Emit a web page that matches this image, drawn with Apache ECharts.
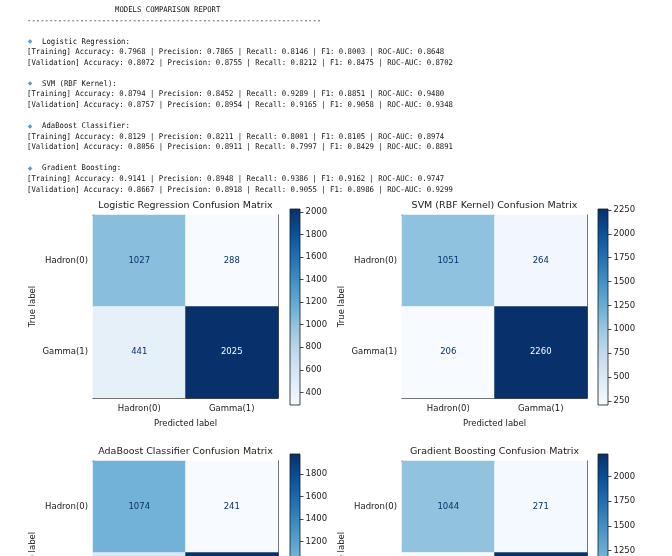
<!DOCTYPE html>
<html>
<head>
<meta charset="utf-8">
<script src="https://cdn.jsdelivr.net/npm/echarts@6/dist/echarts.min.js"></script>
<style>
  html, body { margin: 0; padding: 0; background: #fff; }
  #main { width: 672px; height: 556px; }
</style>
</head>
<body>
<div id="main"></div>
<script>
// report text data
const reportTitle = 'MODELS COMPARISON REPORT'
const metricNames = ['Accuracy', 'Precision', 'Recall', 'F1', 'ROC-AUC']
const modelNames = ['Logistic Regression', 'SVM (RBF Kernel)', 'AdaBoost Classifier', 'Gradient Boosting']
const trainScores = [
  [0.7968, 0.7865, 0.8146, 0.8003, 0.8648],
  [0.8794, 0.8452, 0.9289, 0.8851, 0.9480],
  [0.8129, 0.8211, 0.8001, 0.8105, 0.8974],
  [0.9141, 0.8948, 0.9386, 0.9162, 0.9747]
]
const valScores = [
  [0.8072, 0.8755, 0.8212, 0.8475, 0.8702],
  [0.8757, 0.8954, 0.9165, 0.9058, 0.9348],
  [0.8056, 0.8911, 0.7997, 0.8429, 0.8891],
  [0.8667, 0.8918, 0.9055, 0.8986, 0.9299]
]

// confusion matrices (rows = true, cols = predicted)
const classes = ['Hadron(0)', 'Gamma(1)']
const lrMatrix = [[1027, 288], [441, 2025]]
const svmMatrix = [[1051, 264], [206, 2260]]
const adaMatrix = [[1074, 241], [491, 1975]]
const gbMatrix = [[1044, 271], [236, 2230]]

// colorbar tick labels
const lrTicks = [400, 600, 800, 1000, 1200, 1400, 1600, 1800, 2000]
const svmTicks = [250, 500, 750, 1000, 1250, 1500, 1750, 2000, 2250]
const adaTicks = [400, 600, 800, 1000, 1200, 1400, 1600, 1800]
const gbTicks = [250, 500, 750, 1000, 1250, 1500, 1750, 2000]

const matrices = [lrMatrix, svmMatrix, adaMatrix, gbMatrix]
const cbTicks = [lrTicks, svmTicks, adaTicks, gbTicks]

// matplotlib Blues
const blues = ['#f7fbff', '#deebf7', '#c6dbef', '#9ecae1', '#6baed6', '#4292c6', '#2171b5', '#08519c', '#08306b']

const SANS = '"DejaVu Sans", sans-serif'
const MONO = '"DejaVu Sans Mono", monospace'
const INK = '#1a1a1a'

// panel layout: heatmap box + colorbar box
const panels = [
  { left: 93, top: 215, cbLeft: 290, cbTop: 209 },
  { left: 402, top: 215, cbLeft: 598, cbTop: 209 },
  { left: 93, top: 461, cbLeft: 290, cbTop: 454 },
  { left: 402, top: 461, cbLeft: 598, cbTop: 454 }
]
const PW = 185, PH = 183, CBW = 10, CBH = 196

const chart = echarts.init(document.getElementById('main'))

const grid = [], xAxis = [], yAxis = [], series = [], visualMap = [], graphic = []

// report text
const fmt = (label, vals) => label + ' ' + metricNames.map((m, i) => m + ': ' + vals[i].toFixed(4)).join(' | ')
const monoText = (x, y, text) => ({
  type: 'text', x, y, silent: true, scaleX: 0.93,
  style: { text, fill: '#111', fontSize: 7.85, fontFamily: MONO, verticalAlign: 'middle' }
})
graphic.push(monoText(27 + 20 * 4.4, 9.5, reportTitle))
graphic.push(monoText(27, 21, '-'.repeat(67)))
const groupY = [41.5, 83.5, 126, 168.2]
modelNames.forEach((name, i) => {
  const y = groupY[i]
  graphic.push({
    type: 'text', x: 30, y, silent: true,
    style: { text: '◆', fill: '#5b9bd5', fontSize: 6, fontFamily: SANS, align: 'center', verticalAlign: 'middle' }
  })
  graphic.push(monoText(42, y, name + ':'))
  graphic.push(monoText(27, y + 10.8, fmt('[Training]', trainScores[i])))
  graphic.push(monoText(27, y + 21.4, fmt('[Validation]', valScores[i])))
})

panels.forEach((p, k) => {
  const m = matrices[k]
  const flat = m.flat()
  const vmin = Math.min(...flat), vmax = Math.max(...flat)
  const thresh = (vmin + vmax) / 2

  grid.push({ left: p.left, top: p.top, width: PW, height: PH, outerBoundsMode: 'none', containLabel: false })
  grid.push({ left: p.cbLeft, top: p.cbTop, width: CBW, height: CBH, outerBoundsMode: 'none', containLabel: false })

  const g = 2 * k
  // main x (bottom), frame x (top), colorbar x
  xAxis.push({
    type: 'category', gridIndex: g, data: classes,
    name: 'Predicted label', nameLocation: 'middle', nameGap: 21,
    nameTextStyle: { fontSize: 8.5, color: INK, fontFamily: SANS },
    axisLine: { lineStyle: { color: INK, width: 0.8 } },
    axisTick: { alignWithLabel: true, length: 3.5, lineStyle: { color: INK, width: 0.8 } },
    axisLabel: { fontSize: 8.5, color: INK, fontFamily: SANS, margin: 6 },
    splitLine: { show: false }
  })
  xAxis.push({
    type: 'category', gridIndex: g, data: classes, position: 'top',
    axisLine: { lineStyle: { color: INK, width: 0.8 } },
    axisTick: { show: false }, axisLabel: { show: false }
  })
  xAxis.push({
    type: 'category', gridIndex: g + 1, data: [''],
    axisLine: { show: false }, axisTick: { show: false }, axisLabel: { show: false }
  })

  yAxis.push({
    type: 'category', gridIndex: g, data: classes, inverse: true,
    name: 'True label', nameLocation: 'middle', nameGap: 56,
    nameTextStyle: { fontSize: 8.5, color: INK, fontFamily: SANS },
    axisLine: { lineStyle: { color: INK, width: 0.8 } },
    axisTick: { alignWithLabel: true, length: 3.5, lineStyle: { color: INK, width: 0.8 } },
    axisLabel: { fontSize: 8.5, color: INK, fontFamily: SANS, margin: 5 },
    splitLine: { show: false }
  })
  yAxis.push({
    type: 'category', gridIndex: g, data: classes, inverse: true, position: 'right',
    axisLine: { lineStyle: { color: INK, width: 0.8 } },
    axisTick: { show: false }, axisLabel: { show: false }
  })
  yAxis.push({
    type: 'value', gridIndex: g + 1, min: vmin, max: vmax, position: 'right',
    axisLine: { show: false },
    axisTick: { show: true, length: 3.5, customValues: cbTicks[k], lineStyle: { color: INK, width: 0.8 } },
    axisLabel: {
      fontSize: 8.5, color: INK, fontFamily: SANS, margin: 5.5,
      customValues: cbTicks[k], formatter: v => String(v)
    },
    splitLine: { show: false }
  })

  const cells = []
  m.forEach((row, r) => row.forEach((v, c) => {
    cells.push({ value: [c, r, v], label: { color: v > thresh ? blues[0] : blues[8] } })
  }))

  series.push({
    type: 'heatmap', xAxisIndex: 3 * k, yAxisIndex: 3 * k, data: cells,
    label: { show: true, fontSize: 8.5, fontFamily: SANS, formatter: d => String(d.value[2]) },
    emphasis: { disabled: true }
  })
  series.push({
    type: 'custom', xAxisIndex: 3 * k + 2, yAxisIndex: 3 * k + 2,
    data: [[0, vmin, vmax]], encode: { x: 0, y: [1, 2] }, silent: true,
    renderItem: (params, api) => {
      const top = api.coord([0, api.value(2)])
      const bot = api.coord([0, api.value(1)])
      const cs = params.coordSys
      return {
        type: 'rect',
        shape: { x: cs.x, y: top[1], width: cs.width, height: bot[1] - top[1] },
        style: {
          fill: new echarts.graphic.LinearGradient(0, 1, 0, 0,
            blues.map((c, i) => ({ offset: i / (blues.length - 1), color: c }))),
          stroke: INK, lineWidth: 0.8
        }
      }
    }
  })
  visualMap.push({ show: false, seriesIndex: 2 * k, dimension: 2, min: vmin, max: vmax, inRange: { color: blues } })

  graphic.push({
    type: 'text', x: p.left + PW / 2, y: p.top - 9, silent: true,
    style: { text: modelNames[k] + ' Confusion Matrix', fill: INK, fontSize: 9.5, fontFamily: SANS, align: 'center', verticalAlign: 'middle' }
  })
})

chart.setOption({
  animation: false,
  backgroundColor: '#fff',
  grid, xAxis, yAxis, series, visualMap, graphic
})
</script>
</body>
</html>
